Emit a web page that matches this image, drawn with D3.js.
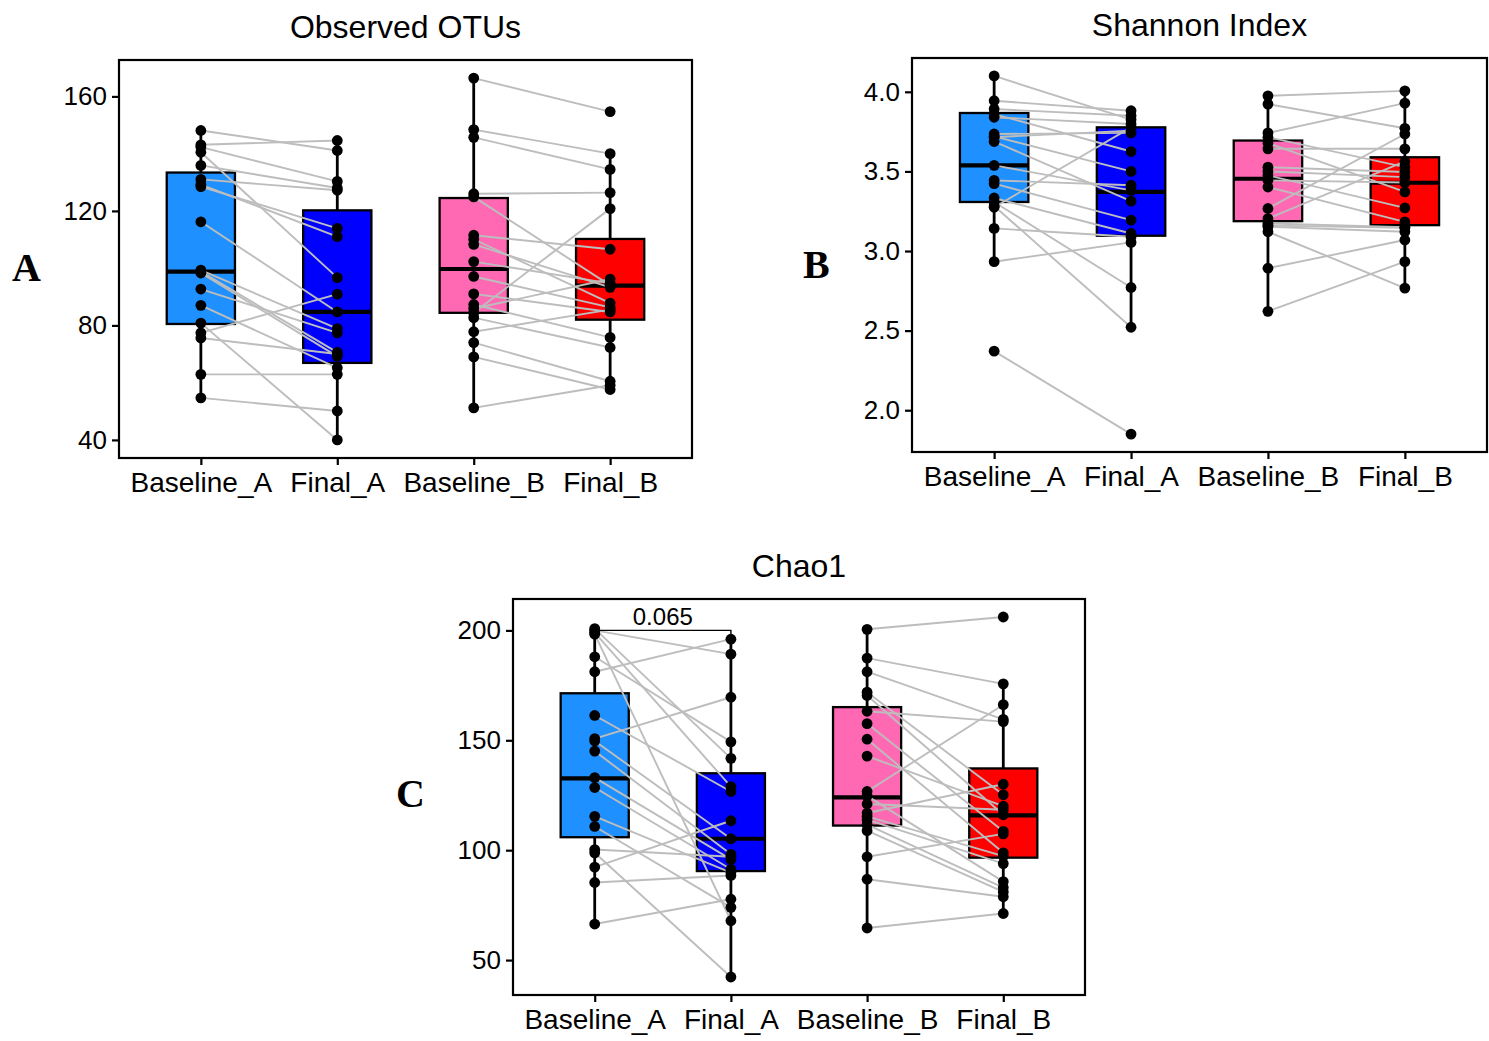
<!DOCTYPE html>
<html>
<head>
<meta charset="utf-8">
<script src="https://cdn.jsdelivr.net/npm/d3@7"></script>
<style>
  body { margin: 0; background: #fff; }
  svg { display: block; }
  text { font-family: "Liberation Sans", Arial, sans-serif; fill: #000; }
</style>
</head>
<body>
<svg id="chart" width="1489" height="1041"></svg>
<script>

// groups + fills
const groups = ["Baseline_A", "Final_A", "Baseline_B", "Final_B"];
const groupColors = ["#1E90FF", "#0000FF", "#FF69B4", "#FF0000"];

// Observed OTUs (index i = same subject in baseline and final)
const otuBaseA  = [148.1, 143.1, 142.3, 140.5, 135.9, 131.0, 129.2, 128.5, 116.2, 99.3, 98.8, 98.3, 92.7, 87.0, 80.8, 77.4, 75.6, 62.9, 54.7];
const otuFinalA = [141.1, 144.6, 130.3, 96.7, 128.0, 127.2, 111.0, 113.9, 84.7, 78.9, 70.6, 69.2, 77.4, 65.2, 40.0, 90.9, 70.0, 62.9, 50.1];
const otuBaseB  = [166.4, 148.4, 145.7, 126.0, 124.9, 111.5, 110.1, 108.3, 102.3, 97.1, 91.0, 87.3, 85.9, 84.4, 82.7, 77.8, 74.0, 69.0, 51.2];
const otuFinalB = [154.7, 140.0, 134.5, 126.4, 94.0, 106.6, 87.8, 93.3, 94.7, 86.3, 84.7, 75.8, 96.2, 120.8, 72.3, 85.5, 60.5, 57.6, 59.1];
// q1, median, q3 per group
const otuBox = [[80.5, 98.8, 133.4], [66.9, 84.7, 120.2], [84.4, 99.7, 124.5], [82.0, 93.9, 110.2]];
const otuTicks = [40, 80, 120, 160];

// Shannon index
const shBaseA  = [4.10, 3.944, 3.892, 3.860, 3.840, 3.735, 3.720, 3.715, 3.688, 3.538, 3.444, 3.423, 3.333, 3.308, 3.283, 3.275, 3.142, 2.933, 2.371];
const shFinalA = [3.825, 3.881, 3.85, 3.625, 3.798, 3.742, 3.5, 3.756, 3.313, 3.381, 3.413, 3.194, 3.110, 2.771, 2.521, 3.777, 3.090, 3.054, 1.85];
const shBaseB  = [3.975, 3.923, 3.742, 3.715, 3.679, 3.642, 3.527, 3.5, 3.475, 3.444, 3.402, 3.267, 3.204, 3.173, 3.16, 3.152, 3.121, 2.892, 2.621];
const shFinalB = [4.006, 3.771, 3.929, 3.527, 3.371, 3.642, 3.496, 3.464, 3.271, 3.43, 3.183, 3.735, 3.5625, 3.15, 3.146, 3.121, 2.767, 3.069, 2.933];
const shBox = [[3.308, 3.538, 3.867], [3.096, 3.371, 3.777], [3.1875, 3.454, 3.694], [3.1625, 3.429, 3.589]];
const shTicks = [2.0, 2.5, 3.0, 3.5, 4.0];

// Chao1
const chaoBaseA  = [200.8, 200.0, 199.0, 198.3, 188.0, 181.2, 161.3, 150.8, 149.7, 145.1, 133.0, 128.5, 115.4, 110.8, 100.3, 98.8, 92.3, 85.3, 66.4];
const chaoFinalA = [141.8, 189.2, 128.9, 67.9, 149.3, 196.0, 126.7, 169.6, 105.2, 98.1, 95.8, 91.3, 89.8, 74.0, 97.0, 42.3, 113.4, 88.5, 77.7];
const chaoBaseB  = [200.5, 187.4, 181.2, 171.9, 170.4, 163.2, 157.6, 150.5, 142.8, 126.7, 124.7, 121.0, 116.9, 115.4, 113.9, 111.6, 108.9, 97.0, 86.8, 64.6];
const chaoFinalB = [206.1, 175.7, 159.5, 125.2, 116.1, 158.5, 108.6, 98.8, 120.0, 166.2, 85.7, 118.4, 130.0, 97.3, 93.9, 83.0, 81.0, 107.4, 78.8, 71.2];
const chaoBox = [[105.9, 132.7, 171.4], [90.5, 105.2, 135.0], [111.2, 124.0, 165.1], [96.6, 115.8, 137.2]];
const chaoTicks = [50, 100, 150, 200];
// significance bracket Baseline_A vs Final_A
const chaoBracket = { from: "Baseline_A", to: "Final_A", y: 200, label: "0.065" };

const svg = d3.select("#chart");

function whiskerEnds(vals, q1, q3) {
    const iqr = q3 - q1;
    const inside = vals.filter(v => v >= q1 - 1.5 * iqr && v <= q3 + 1.5 * iqr);
    return d3.extent(inside);
}

function drawPanel(p) {

    const g = svg.append("g");

    const x = d3.scalePoint()
        .domain(groups)
        .range([p.x0, p.x1])
        .padding(0.6);

    const [lo, hi] = d3.extent(p.series.flat());
    const pad = (hi - lo) * 0.05;
    const y = d3.scaleLinear()
        .domain([lo - pad, hi + pad])
        .range([p.y1, p.y0]);

    const bw = x.step() * 0.5;

    // boxplots
    groups.forEach((grp, i) => {
        const [q1, med, q3] = p.box[i];
        const [wlo, whi] = whiskerEnds(p.series[i], q1, q3);
        const cx = x(grp);

        g.append("line")
            .attr("x1", cx).attr("x2", cx)
            .attr("y1", y(whi)).attr("y2", y(q3))
            .attr("stroke", "#000").attr("stroke-width", 2.8);
        g.append("line")
            .attr("x1", cx).attr("x2", cx)
            .attr("y1", y(q1)).attr("y2", y(wlo))
            .attr("stroke", "#000").attr("stroke-width", 2.8);

        g.append("rect")
            .attr("x", cx - bw / 2)
            .attr("y", y(q3))
            .attr("width", bw)
            .attr("height", y(q1) - y(q3))
            .attr("fill", groupColors[i])
            .attr("stroke", "#000")
            .attr("stroke-width", 2.3);

        g.append("line")
            .attr("x1", cx - bw / 2).attr("x2", cx + bw / 2)
            .attr("y1", y(med)).attr("y2", y(med))
            .attr("stroke", "#000").attr("stroke-width", 4.2);
    });

    // paired lines baseline -> final
    [[0, 1], [2, 3]].forEach(([a, b]) => {
        const base = p.series[a], fin = p.series[b];
        g.selectAll(null)
            .data(d3.range(base.length))
            .enter()
            .append("line")
            .attr("x1", x(groups[a]))
            .attr("y1", i => y(base[i]))
            .attr("x2", x(groups[b]))
            .attr("y2", i => y(fin[i]))
            .attr("stroke", "#BDBDBD")
            .attr("stroke-width", 1.9);
    });

    // points
    p.series.forEach((vals, i) => {
        g.selectAll(null)
            .data(vals)
            .enter()
            .append("circle")
            .attr("cx", x(groups[i]))
            .attr("cy", d => y(d))
            .attr("r", 5.4)
            .attr("fill", "#000");
    });

    // bracket
    if (p.bracket) {
        const bx1 = x(p.bracket.from), bx2 = x(p.bracket.to), by = y(p.bracket.y);
        g.append("path")
            .attr("d", `M${bx1},${by + 6}V${by}H${bx2}V${by + 6}`)
            .attr("fill", "none")
            .attr("stroke", "#000")
            .attr("stroke-width", 1.4);
        g.append("text")
            .attr("x", (bx1 + bx2) / 2)
            .attr("y", by - 5)
            .attr("text-anchor", "middle")
            .style("font-size", "24px")
            .text(p.bracket.label);
    }

    // axes
    const yAxis = g.append("g")
        .attr("transform", `translate(${p.x0},0)`)
        .call(d3.axisLeft(y).tickValues(p.ticks).tickSize(7).tickPadding(5).tickFormat(p.fmt));
    const xAxis = g.append("g")
        .attr("transform", `translate(0,${p.y1})`)
        .call(d3.axisBottom(x).tickSize(7).tickPadding(7));

    [yAxis, xAxis].forEach(ax => {
        ax.select(".domain").remove();
        ax.selectAll(".tick line").attr("stroke", "#000").attr("stroke-width", 2.2);
        ax.selectAll(".tick text").attr("fill", "#000").style("font-family", "'Liberation Sans', Arial, sans-serif");
    });
    yAxis.selectAll(".tick text").style("font-size", "26px");
    xAxis.selectAll(".tick text").style("font-size", "28px");

    // panel frame
    g.append("rect")
        .attr("x", p.x0).attr("y", p.y0)
        .attr("width", p.x1 - p.x0).attr("height", p.y1 - p.y0)
        .attr("fill", "none")
        .attr("stroke", "#000")
        .attr("stroke-width", 2.2);

    // title
    g.append("text")
        .attr("x", (p.x0 + p.x1) / 2)
        .attr("y", p.y0 - 22)
        .attr("text-anchor", "middle")
        .style("font-size", "32px")
        .text(p.title);

    // panel letter
    g.append("text")
        .attr("x", p.letterX)
        .attr("y", p.letterY)
        .style("font-family", "'Liberation Serif', 'Times New Roman', serif")
        .style("font-weight", "bold")
        .style("font-size", "40px")
        .text(p.letter);
}

drawPanel({
    title: "Observed OTUs", letter: "A", letterX: 12, letterY: 281,
    x0: 119, x1: 692, y0: 60, y1: 458,
    series: [otuBaseA, otuFinalA, otuBaseB, otuFinalB],
    box: otuBox, ticks: otuTicks, fmt: d3.format("d")
});

drawPanel({
    title: "Shannon Index", letter: "B", letterX: 803, letterY: 278,
    x0: 912, x1: 1487, y0: 58, y1: 452,
    series: [shBaseA, shFinalA, shBaseB, shFinalB],
    box: shBox, ticks: shTicks, fmt: d3.format(".1f")
});

drawPanel({
    title: "Chao1", letter: "C", letterX: 396, letterY: 807,
    x0: 513, x1: 1085, y0: 599, y1: 995,
    series: [chaoBaseA, chaoFinalA, chaoBaseB, chaoFinalB],
    box: chaoBox, ticks: chaoTicks, fmt: d3.format("d"),
    bracket: chaoBracket
});

</script>
</body>
</html>
